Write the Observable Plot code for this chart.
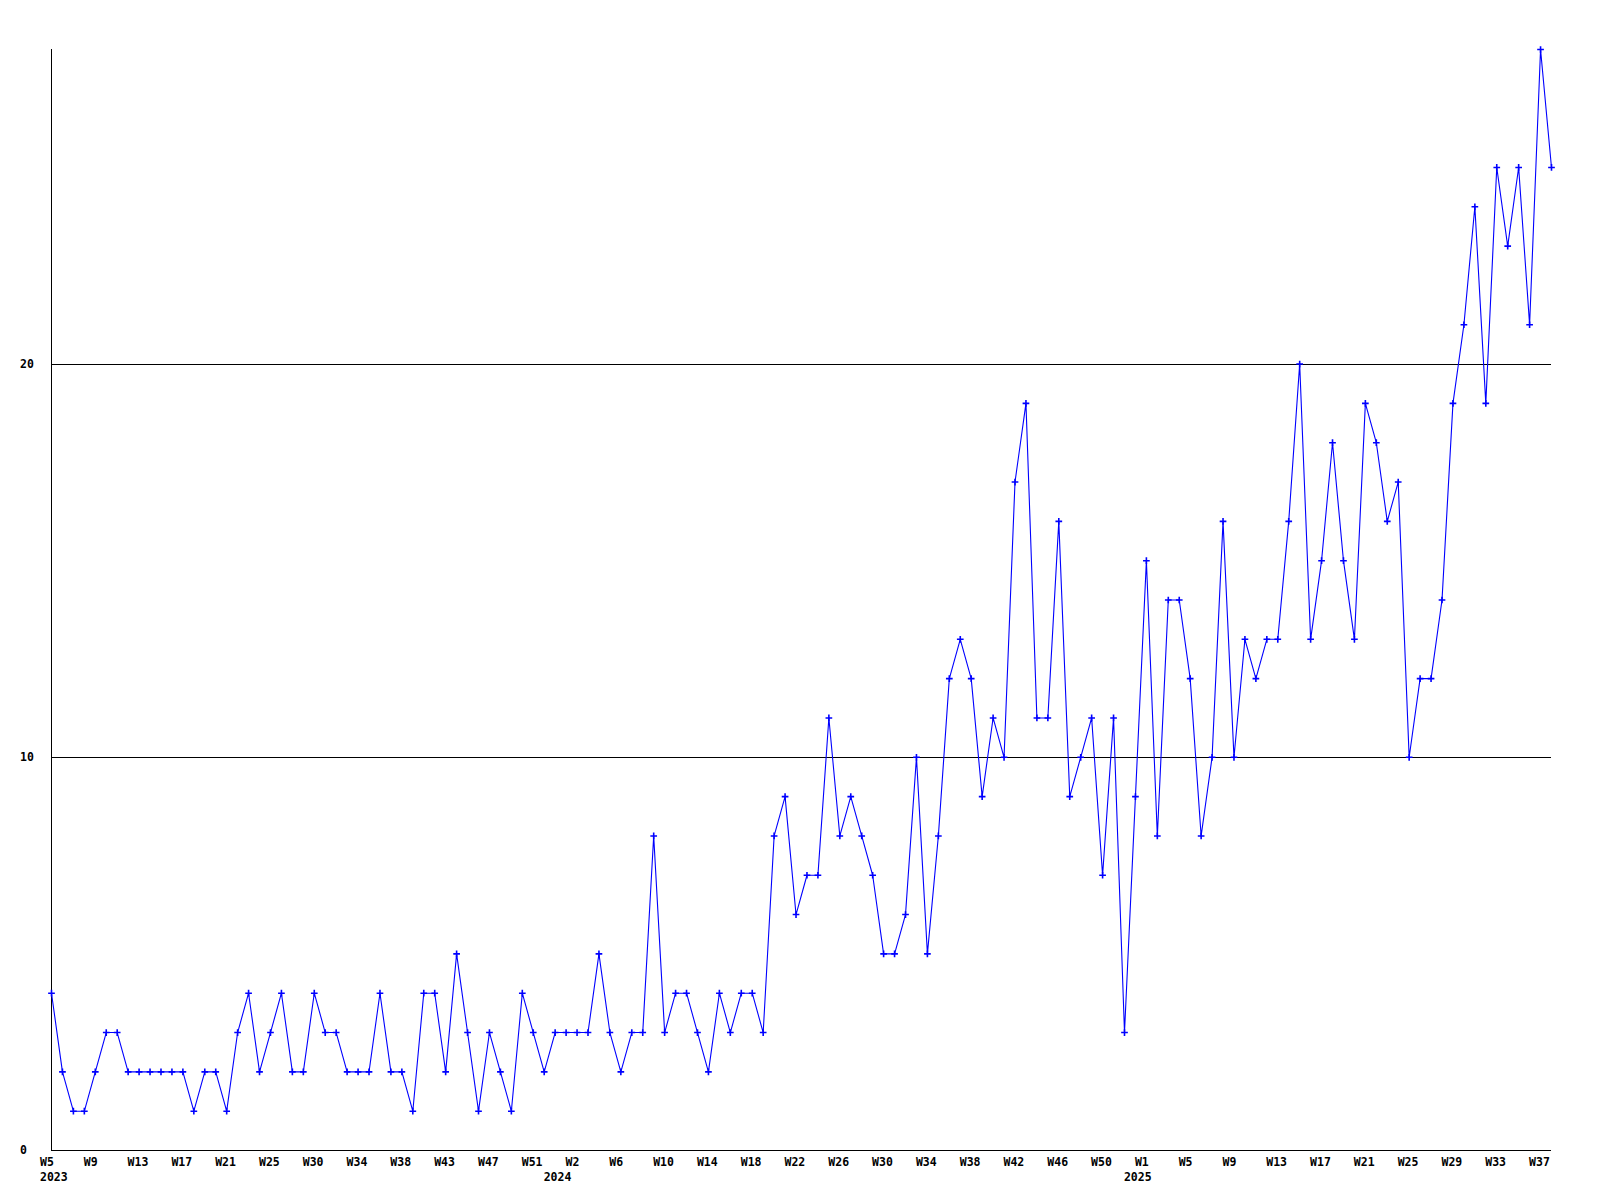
<!DOCTYPE html>
<html>
<head>
<meta charset="utf-8">
<script src="https://cdn.jsdelivr.net/npm/d3@7"></script>
<script src="https://cdn.jsdelivr.net/npm/@observablehq/plot@0.6"></script>
<style>
  html, body { margin: 0; padding: 0; background: #ffffff; }
  #chart svg { display: block; }
</style>
</head>
<body>
<div id="chart"></div>
<script>
// Weekly counts, W5 2023 .. W38 2025 (one value per plotted week)
const values = [
  4, 2, 1, 1, 2, 3, 3, 2, 2, 2, 2, 2, 2, 1, 2, 2, 1, 3, 4, 2,
  3, 4, 2, 2, 4, 3, 3, 2, 2, 2, 4, 2, 2, 1, 4, 4, 2, 5, 3, 1,
  3, 2, 1, 4, 3, 2, 3, 3, 3, 3, 5, 3, 2, 3, 3, 8, 3, 4, 4, 3,
  2, 4, 3, 4, 4, 3, 8, 9, 6, 7, 7, 11, 8, 9, 8, 7, 5, 5, 6, 10,
  5, 8, 12, 13, 12, 9, 11, 10, 17, 19, 11, 11, 16, 9, 10, 11, 7, 11, 3, 9,
  15, 8, 14, 14, 12, 8, 10, 16, 10, 13, 12, 13, 13, 16, 20, 13, 15, 18, 15, 13,
  19, 18, 16, 17, 10, 12, 12, 14, 19, 21, 24, 19, 25, 23, 25, 21, 28, 25
];

// Week tick labels, one every 4th plotted week
const weekLabels = [
  "W5", "W9", "W13", "W17", "W21", "W25", "W30", "W34", "W38", "W43", "W47", "W51",
  "W2", "W6", "W10", "W14", "W18", "W22", "W26", "W30", "W34", "W38", "W42", "W46", "W50",
  "W1", "W5", "W9", "W13", "W17", "W21", "W25", "W29", "W33", "W37"
];
const weekLabelStep = 4;

// Year labels and the plotted-week index they sit under
const yearLabels = ["2023", "2024", "2025"];
const yearIndex = [0, 46, 99];

// Y tick values
const yTicks = [0, 10, 20];
const yMax = 28;

const blue = "#0000ff";
const font = "DejaVu Sans Mono";

const points = values.map((v, i) => ({i, v}));
const weekTicks = weekLabels.map((label, k) => ({label, i: k * weekLabelStep}));
const years = yearLabels.map((label, k) => ({label, i: yearIndex[k]}));

const chart = Plot.plot({
  width: 1600,
  height: 1200,
  marginLeft: 51,
  marginRight: 49,
  marginTop: 49,
  marginBottom: 50,
  x: {domain: [0, values.length - 1], axis: null},
  y: {domain: [0, yMax], axis: null},
  style: {background: "#ffffff", fontFamily: font},
  marks: [
    // grid lines + bottom axis
    Plot.ruleY(yTicks, {y: d => d, x1: 0, x2: values.length - 1, stroke: "#000000", strokeWidth: 1, shapeRendering: "crispEdges"}),
    // left axis
    Plot.ruleX([0], {x: d => d, y1: 0, y2: yMax, stroke: "#000000", strokeWidth: 1, shapeRendering: "crispEdges"}),
    // y tick labels
    Plot.text(yTicks, {
      x: 0, y: d => d, text: d => String(d), textAnchor: "start", dx: -31.5,
      fontSize: 11.5, fontWeight: "bold", fontFamily: font, fill: "#000000"
    }),
    // week tick labels
    Plot.text(weekTicks, {
      x: "i", y: 0, text: "label", textAnchor: "start", dx: -11.5, dy: 12,
      fontSize: 11.5, fontWeight: "bold", fontFamily: font, fill: "#000000"
    }),
    // year labels
    Plot.text(years, {
      x: "i", y: 0, text: "label", textAnchor: "start", dx: -11.5, dy: 27,
      fontSize: 11.5, fontWeight: "bold", fontFamily: font, fill: "#000000"
    }),
    // data line
    Plot.line(points, {x: "i", y: "v", stroke: blue, strokeWidth: 1.1}),
    // point markers
    Plot.dot(points, {x: "i", y: "v", symbol: "plus", r: 2.3, stroke: blue, strokeWidth: 1.6})
  ]
});

document.getElementById("chart").appendChild(chart);
</script>
</body>
</html>
